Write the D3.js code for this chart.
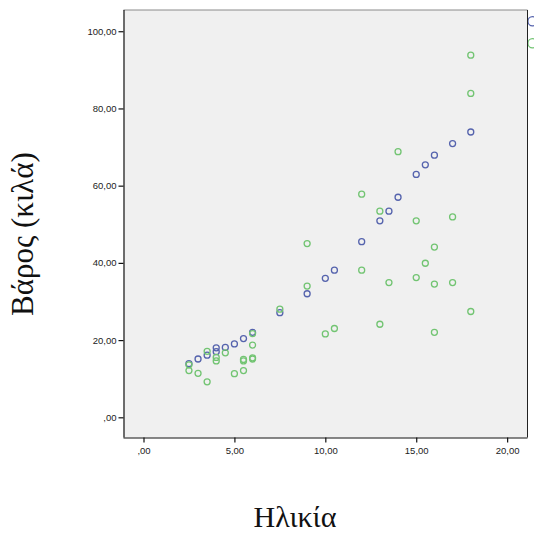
<!DOCTYPE html>
<html><head><meta charset="utf-8">
<script src="https://cdn.jsdelivr.net/npm/d3@7"></script>
<style>body{margin:0;background:#fff}svg{display:block}</style>
</head><body>
<script>
const xTicks = [0, 5, 10, 15, 20];
const yTicks = [0, 20, 40, 60, 80, 100];
const xLabel = "Ηλικία";
const yLabel = "Βάρος (κιλά)";
// blue series (age, weight)
const blueAge    = [2.5, 3, 3.5, 4, 4, 4.5, 5, 5.5, 6, 7.5, 9, 10, 10.5, 12, 13, 13.5, 14, 15, 15.5, 16, 17, 18];
const blueWeight = [13.9, 15.1, 16.1, 17.0, 18.0, 18.1, 19.0, 20.4, 22.0, 27.1, 32.0, 36.0, 38.1, 45.5, 50.9, 53.4, 57.0, 62.9, 65.4, 67.9, 70.9, 73.9];
// green series (age, weight)
const greenAge    = [2.5, 2.5, 3, 3.5, 3.5, 4, 4, 4.5, 5, 5.5, 5.5, 5.5, 6, 6, 6, 6, 7.5, 9, 9, 10, 10.5, 12, 12, 13, 13, 13.5, 14, 15, 15, 15.5, 16, 16, 16, 17, 17, 18, 18, 18];
const greenWeight = [13.6, 12.1, 11.4, 17.1, 9.2, 15.5, 14.6, 16.7, 11.3, 15.0, 14.6, 12.1, 21.7, 18.7, 15.4, 15.1, 28.0, 45.0, 34.0, 21.6, 23.0, 57.8, 38.1, 53.4, 24.1, 34.9, 68.8, 50.9, 36.2, 39.9, 44.1, 34.5, 22.0, 51.9, 34.9, 93.8, 83.9, 27.4];
const seriesNames = ["blue", "green"];
const seriesColors = ["#5563ad", "#72c472"];

const W = 534, H = 535;
const svg = d3.select("body").append("svg").attr("width", W).attr("height", H);

const x = d3.scaleLinear().domain([-1.1, 21.12]).range([123.5, 527.5]);
const y = d3.scaleLinear().domain([-5.23, 105.5]).range([437.5, 10]);
const color = d3.scaleOrdinal().domain(seriesNames).range(seriesColors);

const [x0, x1] = x.range();
const [y0, y1] = y.range();

// plot background
svg.append("rect").attr("x", x0).attr("y", y1).attr("width", x1 - x0).attr("height", y0 - y1)
  .attr("fill", "#f0f0f0");

// legend markers (cut off at right edge)
const legendY = [21.3, 43.3];
svg.append("g").selectAll("circle").data(seriesNames).join("circle")
  .attr("cx", 532.5).attr("cy", (d, i) => legendY[i]).attr("r", 4.6)
  .attr("fill", "none").attr("stroke", d => color(d)).attr("stroke-width", 1.3);

// frame
svg.append("line").attr("x1", x0).attr("x2", x1).attr("y1", y1).attr("y2", y1).attr("stroke", "#8a8a8a").attr("stroke-width", 1);
svg.append("line").attr("x1", x1).attr("x2", x1).attr("y1", y1).attr("y2", y0).attr("stroke", "#222").attr("stroke-width", 1);

// axes
const fmt = d => d === 0 ? ",00" : d3.format(".2f")(d).replace(".", ",");
const gx = svg.append("g").attr("transform", `translate(0,${y0})`)
  .call(d3.axisBottom(x).tickValues(xTicks).tickFormat(fmt).tickSize(5).tickPadding(5).tickSizeOuter(0));
const gy = svg.append("g").attr("transform", `translate(${x0},0)`)
  .call(d3.axisLeft(y).tickValues(yTicks).tickFormat(fmt).tickSize(5).tickPadding(2).tickSizeOuter(0));
[gx, gy].forEach(g => {
  g.select(".domain").attr("stroke", "#111").attr("stroke-width", 1.2);
  g.selectAll(".tick line").attr("stroke", "#111").attr("stroke-width", 1.2);
  g.selectAll(".tick text").attr("fill", "#222").style("font-family", "Liberation Sans, Arial, sans-serif").style("font-size", "9.5px");
});
// extend axis domain across full plot
gx.select(".domain").attr("d", `M${x0},0.5H${x1}`);
gy.select(".domain").attr("d", `M0.5,${y0}V${y1}`);

// points
const pts = [];
blueAge.forEach((a, i) => pts.push({s: "blue", a, w: blueWeight[i]}));
greenAge.forEach((a, i) => pts.push({s: "green", a, w: greenWeight[i]}));
svg.append("g").selectAll("circle").data(pts).join("circle")
  .attr("cx", d => x(d.a)).attr("cy", d => y(d.w)).attr("r", 3)
  .attr("fill", "none").attr("stroke", d => color(d.s)).attr("stroke-width", 1.3);

// axis titles
svg.append("text").attr("x", 295).attr("y", 527).attr("text-anchor", "middle")
  .style("font-family", "Liberation Serif, Times New Roman, serif").style("font-size", "30px").attr("fill", "#111")
  .text(xLabel);
svg.append("text").attr("transform", "translate(33,234) rotate(-90)").attr("text-anchor", "middle")
  .style("font-family", "Liberation Serif, Times New Roman, serif").style("font-size", "31px").attr("fill", "#111")
  .text(yLabel);
</script>
</body></html>
